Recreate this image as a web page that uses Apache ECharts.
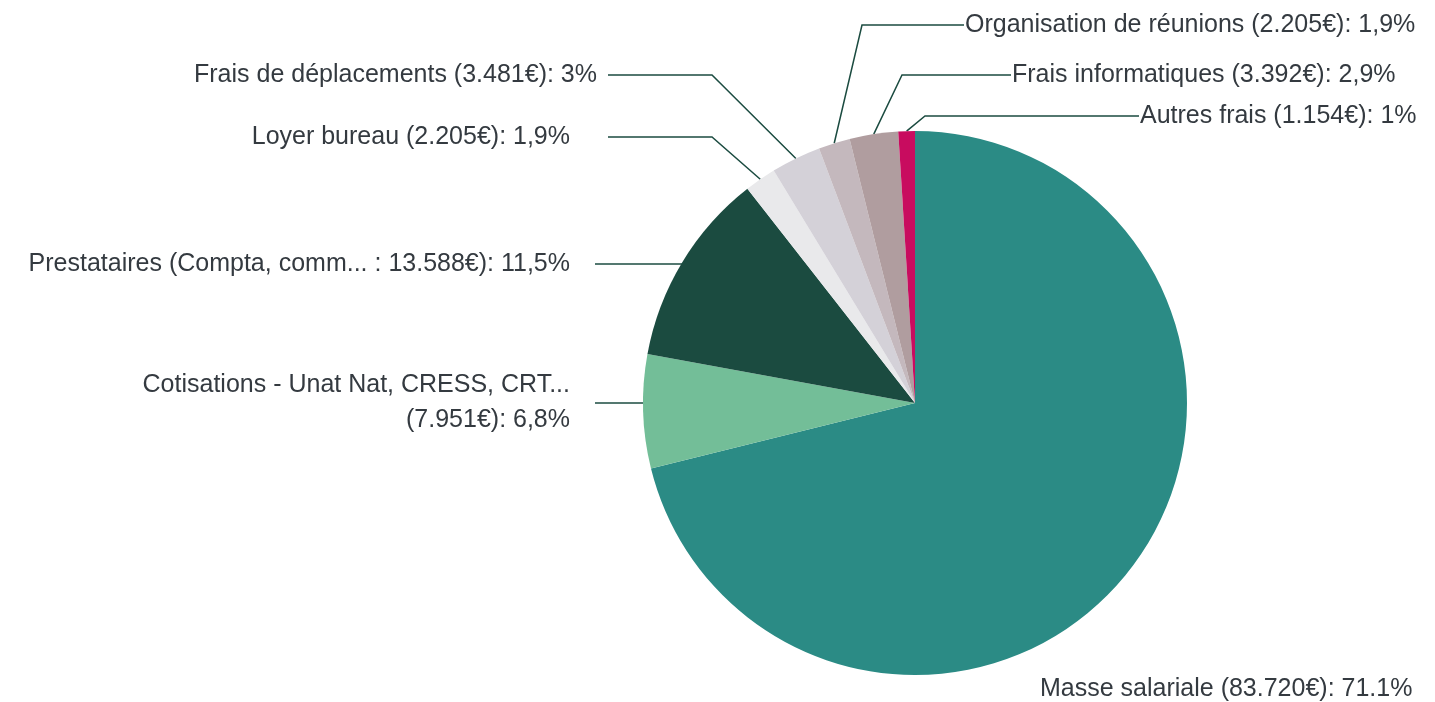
<!DOCTYPE html>
<html>
<head>
<meta charset="utf-8">
<script src="https://cdn.jsdelivr.net/npm/echarts@6/dist/echarts.min.js"></script>
<style>
html,body{margin:0;padding:0;background:#fff;}
#chart{width:1435px;height:702px;}
</style>
</head>
<body>
<div id="chart"></div>
<script>
// ---- data ----
const categories = [
  'Masse salariale',
  'Cotisations - Unat Nat, CRESS, CRT...',
  'Prestataires (Compta, comm...',
  'Loyer bureau',
  'Frais de déplacements',
  'Organisation de réunions',
  'Frais informatiques',
  'Autres frais'
];
// text that separates the name from the amount in each label
const separators = [' (', '\n(', ' : ', ' (', ' (', ' (', ' (', ' ('];
const amounts = [83720, 7951, 13588, 2205, 3481, 2205, 3392, 1154];
const pctLabels = ['71.1%', '6,8%', '11,5%', '1,9%', '3%', '1,9%', '2,9%', '1%'];
const colors = ['#2b8b85', '#73be98', '#1b4b40', '#e9e9eb', '#d4d1d8', '#c4b8bd', '#b09d9f', '#c80c5f'];

// ---- label layout (positions of text and leader-line elbows) ----
const labelCfg = [
  {x: 1040, y: 689, align: 'left'},
  {x: 570, y: 403, align: 'right', line: [[null, 403], [595, 403]], flat: true},
  {x: 570, y: 264, align: 'right', line: [[null, 264], [595, 264]], flat: true},
  {x: 570, y: 137, align: 'right', line: [[712, 137], [608, 137]]},
  {x: 597, y: 75, align: 'right', line: [[712, 75], [608, 75]]},
  {x: 965, y: 25, align: 'left', line: [[862, 25], [964, 25]]},
  {x: 1012, y: 75, align: 'left', line: [[902, 75], [1011, 75]]},
  {x: 1140, y: 116, align: 'left', line: [[925, 116], [1139, 116]]}
];

function fmtAmount(v) {
  return String(v).replace(/\B(?=(\d{3})+(?!\d))/g, '.');
}

const seriesData = categories.map((name, i) => ({
  name: name,
  value: amounts[i],
  itemStyle: {color: colors[i]},
  labelLine: {show: i !== 0}
}));

const chart = echarts.init(document.getElementById('chart'));
chart.setOption({
  animation: false,
  series: [{
    type: 'pie',
    center: [915, 403],
    radius: 272,
    startAngle: 90,
    clockwise: true,
    avoidLabelOverlap: false,
    data: seriesData,
    itemStyle: {borderWidth: 0},
    label: {
      show: true,
      position: 'outside',
      fontFamily: '"Liberation Sans", Arial, sans-serif',
      fontSize: 25,
      lineHeight: 35,
      color: '#343a40',
      formatter: function (p) {
        const i = p.dataIndex;
        return categories[i] + separators[i] + fmtAmount(amounts[i]) + '€): ' + pctLabels[i];
      }
    },
    labelLine: {
      show: true,
      lineStyle: {color: '#1b4b40', width: 1.5}
    },
    labelLayout: function (params) {
      const c = labelCfg[params.dataIndex];
      const res = {x: c.x, y: c.y, align: c.align, verticalAlign: 'middle'};
      if (c.line && params.labelLinePoints) {
        const p0 = params.labelLinePoints[0];
        if (c.flat) {
          res.labelLinePoints = [[p0[0], c.line[0][1]], [(p0[0] + c.line[1][0]) / 2, c.line[0][1]], c.line[1]];
        } else {
          res.labelLinePoints = [p0, c.line[0], c.line[1]];
        }
      }
      return res;
    }
  }]
});
</script>
</body>
</html>
